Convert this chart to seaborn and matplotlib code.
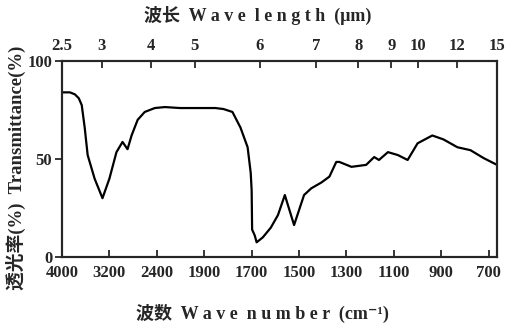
import numpy as np
import pandas as pd
import matplotlib
matplotlib.use('Agg')
import matplotlib.pyplot as plt
import seaborn as sns

# spectrum: wavenumber (cm-1) and transmittance (%)
wavenumber = [4000, 3867, 3783, 3717, 3667, 3617, 3567, 3450, 3317, 3200,
              3081, 2979, 2894, 2826, 2723, 2604, 2434, 2315, 2155, 1943,
              1853, 1819, 1781, 1747, 1717, 1704, 1700, 1698, 1687, 1679,
              1653, 1619, 1589, 1560, 1521, 1479, 1449, 1406, 1372, 1343,
              1330, 1279, 1217, 1183, 1163, 1125, 1083, 1042, 1000, 938,
              891, 832, 777, 722, 665]
transmittance = [84, 84, 83, 81, 77.5, 66, 52, 40, 30, 40,
                 53.5, 58.7, 55, 62, 70, 74, 76, 76.5, 76, 76,
                 76, 75.5, 74, 66, 56, 43, 34, 14, 11, 7.5,
                 10, 15, 21.4, 31.6, 16.3, 31.6, 35, 38, 41, 48.5,
                 48.5, 46, 47, 51, 49.5, 53.5, 52, 49.5, 58, 62,
                 60, 56, 54.5, 50.5, 47]

# bottom tick labels sit at equal spacing (non-linear instrument scale)
wn_ticks = [700, 900, 1100, 1300, 1500, 1700, 1900, 2400, 3200, 4000]
# top axis wavelengths (um)
wl_ticks = [2.5, 3, 4, 5, 6, 7, 8, 9, 10, 12, 15]

pos_k = np.arange(len(wn_ticks), dtype=float)
wn_k = np.array(wn_ticks, dtype=float)


def fwd(x):
    x = np.asarray(x, dtype=float)
    y = np.interp(x, wn_k, pos_k)
    y = np.where(x < wn_k[0], (x - wn_k[0]) / 200.0, y)
    y = np.where(x > wn_k[-1], pos_k[-1] + (x - wn_k[-1]) / 800.0, y)
    return y


def inv(p):
    p = np.asarray(p, dtype=float)
    x = np.interp(p, pos_k, wn_k)
    x = np.where(p < 0, wn_k[0] + p * 200.0, x)
    x = np.where(p > pos_k[-1], wn_k[-1] + (p - pos_k[-1]) * 800.0, x)
    return x


df = pd.DataFrame({'wavenumber': wavenumber, 'T': transmittance})

sns.set_style('white')
plt.rcParams['font.family'] = ['Liberation Serif', 'Noto Sans CJK SC',
                               'DejaVu Sans']
plt.rcParams['axes.unicode_minus'] = False

fig = plt.figure(figsize=(5.18, 3.27), dpi=100)
ax = fig.add_axes([62 / 518, 70 / 327, 435 / 518, 196 / 327])

sns.lineplot(data=df, x='wavenumber', y='T', ax=ax, color='black',
             linewidth=1.6, sort=False)

ax.set_xscale('function', functions=(fwd, inv))
ax.set_xlim(4000, 665)
ax.set_ylim(0, 100)
ax.set_xticks(wn_ticks)
ax.set_xticklabels([str(v) for v in wn_ticks])
ax.set_yticks([0, 50, 100])
ax.set_yticklabels(['0', '50', '100'])
ax.set_xlabel('')
ax.set_ylabel('')
ax.tick_params(axis='x', direction='in', length=5, width=1.3, pad=6,
               labelsize=12)
ax.tick_params(axis='y', direction='out', length=5, width=1.3, pad=2,
               labelsize=12, left=True)
for lab in ax.get_xticklabels() + ax.get_yticklabels():
    lab.set_fontweight('bold')
for sp in ax.spines.values():
    sp.set_color('black')
    sp.set_linewidth(1.5)

ax2 = ax.twiny()
ax2.set_xscale('function', functions=(fwd, inv))
ax2.set_xlim(ax.get_xlim())
ax2.set_xticks([10000.0 / w for w in wl_ticks])
ax2.set_xticklabels([('%g' % w) for w in wl_ticks])
ax2.tick_params(axis='x', direction='in', length=5, width=1.3, pad=5,
                labelsize=12)
for lab in ax2.get_xticklabels():
    lab.set_fontweight('bold')
for sp in ax2.spines.values():
    sp.set_linewidth(1.5)

fig.text(258 / 518, 1 - 15 / 327, '波长  W a v e  l e n g t h  (μm)',
         ha='center', va='center', fontsize=13, fontweight='bold')
fig.text(262 / 518, 1 - 313 / 327, '波数  W a v e  n u m b e r  (cm⁻¹)',
         ha='center', va='center', fontsize=13, fontweight='bold')
fig.text(16 / 518, 1 - 168 / 327, '透光率(%)  Transmittance(%)',
         ha='center', va='center', rotation=90, fontsize=13.5,
         fontweight='bold')

fig.savefig('out.png', dpi=100)
